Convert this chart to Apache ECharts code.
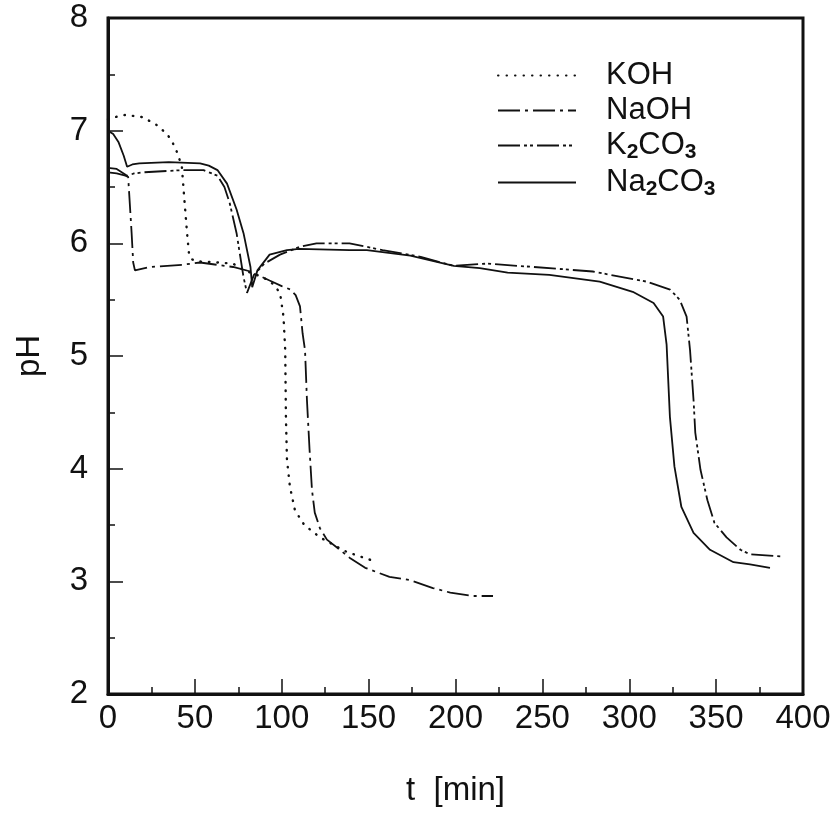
<!DOCTYPE html>
<html lang="en">
<head>
    <meta charset="UTF-8">
    <title>pH vs time</title>
    <style>
        * { margin: 0; padding: 0; }
        #main { width: 838px; height: 820px; background: #fff; }
    </style>
    <script src="https://cdn.jsdelivr.net/npm/echarts@6/dist/echarts.min.js"></script>
</head>
<body>
    <div id="main"></div>
    <script>
        // series names
        var names = ['KOH', 'NaOH', 'K2CO3', 'Na2CO3'];

        // KOH (dotted)
        var kohT = [0, 4, 10, 20, 28, 34, 37, 40, 42.5, 44, 45.5, 46.6, 48, 51, 63, 72, 76, 82, 89, 95, 99, 101, 102, 102.4, 103, 104.7, 107.6, 113, 122, 137.5, 155];
        var kohPH = [7.1, 7.12, 7.14, 7.12, 7.05, 6.97, 6.9, 6.8, 6.68, 6.38, 6.09, 5.91, 5.86, 5.84, 5.83, 5.82, 5.78, 5.74, 5.70, 5.64, 5.56, 5.35, 5.05, 4.46, 4.08, 3.84, 3.63, 3.5, 3.39, 3.26, 3.17];

        // NaOH (dash-dot)
        var naohT = [0, 5, 10, 11.6, 13.6, 14.5, 15.5, 24, 43, 53, 72, 82, 93, 100, 105, 108, 110.5, 112, 113.4, 114.5, 116, 117.4, 119, 122, 126, 133.5, 139, 148, 162, 174, 187, 197, 210, 221.6];
        var naohPH = [6.63, 6.62, 6.6, 6.59, 6.09, 5.83, 5.76, 5.79, 5.81, 5.83, 5.79, 5.75, 5.67, 5.62, 5.59, 5.54, 5.44, 5.2, 5.05, 4.61, 4.17, 3.81, 3.61, 3.47, 3.37, 3.28, 3.21, 3.12, 3.04, 3.01, 2.94, 2.90, 2.87, 2.87];

        // K2CO3 (dash-dot-dot)
        var k2co3T = [0, 5, 11, 15, 20, 43, 55, 63, 67, 70, 74, 78, 80, 84, 90, 99, 110.5, 120, 139, 158, 180, 199, 218, 245, 279, 310, 323.5, 329, 333, 335, 337, 338, 341, 345, 349, 356, 364, 369.5, 388.5];
        var k2co3PH = [6.67, 6.66, 6.6, 6.62, 6.63, 6.65, 6.65, 6.6, 6.5, 6.36, 6.09, 5.70, 5.56, 5.72, 5.82, 5.9, 5.97, 6.0, 6.0, 5.94, 5.88, 5.80, 5.82, 5.79, 5.75, 5.66, 5.59, 5.5, 5.35, 5.05, 4.61, 4.32, 3.99, 3.72, 3.52, 3.39, 3.28, 3.24, 3.22];

        // Na2CO3 (solid)
        var na2co3T = [0, 3, 6, 9, 11, 14, 18, 35, 53, 58, 63, 68.5, 74, 78, 82, 83, 86, 93, 103, 110, 139, 149, 174, 199, 214, 230, 254, 283, 302, 314, 319.5, 321.5, 323.4, 326, 330, 337, 346.5, 360, 369.5, 381];
        var na2co3PH = [7.0, 6.97, 6.9, 6.78, 6.68, 6.7, 6.71, 6.72, 6.71, 6.69, 6.65, 6.53, 6.30, 6.09, 5.79, 5.61, 5.76, 5.9, 5.94, 5.95, 5.94, 5.94, 5.89, 5.80, 5.78, 5.74, 5.72, 5.66, 5.57, 5.47, 5.35, 5.1, 4.46, 4.02, 3.66, 3.43, 3.28, 3.17, 3.15, 3.12];

        function pairs(t, v) {
            return t.map(function (x, i) { return [x, v[i]]; });
        }

        var font = '"Liberation Sans", Arial, sans-serif';
        var ink = '#111';

        var dashes = [
            [0.5, 8],
            [22, 5, 3, 5],
            [22, 4, 3, 3, 3, 4],
            'solid'
        ];
        var seriesData = [
            pairs(kohT, kohPH),
            pairs(naohT, naohPH),
            pairs(k2co3T, k2co3PH),
            pairs(na2co3T, na2co3PH)
        ];

        var chartDom = document.getElementById('main');
        var myChart = echarts.init(chartDom, null, { renderer: 'canvas' });

        var option = {
            backgroundColor: '#fff',
            animation: false,
            textStyle: { fontFamily: font, color: ink },
            grid: {
                left: 108,
                right: 35,
                top: 18,
                bottom: 126,
                show: true,
                borderColor: ink,
                borderWidth: 3,
                backgroundColor: 'transparent'
            },
            legend: {
                orient: 'vertical',
                left: 492,
                top: 55,
                itemWidth: 78,
                itemHeight: 14,
                itemGap: 4,
                data: names,
                itemStyle: { opacity: 0 },
                formatter: function (name) {
                    return name.replace(/([A-Za-z]+)|(\d)/g, function (m, a, d) {
                        return a ? '{n|' + a + '}' : '{s|' + d + '}';
                    });
                },
                textStyle: {
                    padding: [0, 0, 0, 25],
                    rich: {
                        n: { fontFamily: font, fontSize: 31, color: ink },
                        s: { fontFamily: font, fontSize: 21, color: ink, fontWeight: 'bold', padding: [14, 0, 0, 0] }
                    }
                }
            },
            xAxis: {
                type: 'value',
                min: 0,
                max: 400,
                interval: 50,
                name: 't  [min]',
                nameLocation: 'middle',
                nameGap: 80,
                nameTextStyle: { fontFamily: font, fontSize: 33, color: ink },
                axisLine: { show: true, lineStyle: { color: ink, width: 3 } },
                axisTick: { show: true, inside: true, length: 15, lineStyle: { color: ink, width: 1.5 } },
                minorTick: { show: true, splitNumber: 2, length: 7, lineStyle: { color: ink, width: 1.5 } },
                axisLabel: { fontFamily: font, fontSize: 33, color: ink, margin: 8 },
                splitLine: { show: false }
            },
            yAxis: {
                type: 'value',
                min: 2,
                max: 8,
                interval: 1,
                name: 'pH',
                nameLocation: 'middle',
                nameGap: 62,
                nameTextStyle: { fontFamily: font, fontSize: 33, color: ink },
                axisLine: { show: true, lineStyle: { color: ink, width: 3 } },
                axisTick: { show: true, inside: true, length: 15, lineStyle: { color: ink, width: 1.5 } },
                minorTick: { show: true, splitNumber: 2, length: 7, lineStyle: { color: ink, width: 1.5 } },
                axisLabel: { fontFamily: font, fontSize: 33, color: ink, margin: 20 },
                splitLine: { show: false }
            },
            series: names.map(function (n, i) {
                return {
                    name: n,
                    type: 'line',
                    data: seriesData[i],
                    symbol: 'none',
                    showSymbol: false,
                    smooth: false,
                    lineStyle: {
                        color: ink,
                        width: i === 0 ? 2.4 : 1.8,
                        type: dashes[i],
                        cap: i === 0 ? 'round' : 'butt'
                    },
                    itemStyle: { color: ink }
                };
            })
        };

        option && myChart.setOption(option);
    </script>
</body>
</html>
